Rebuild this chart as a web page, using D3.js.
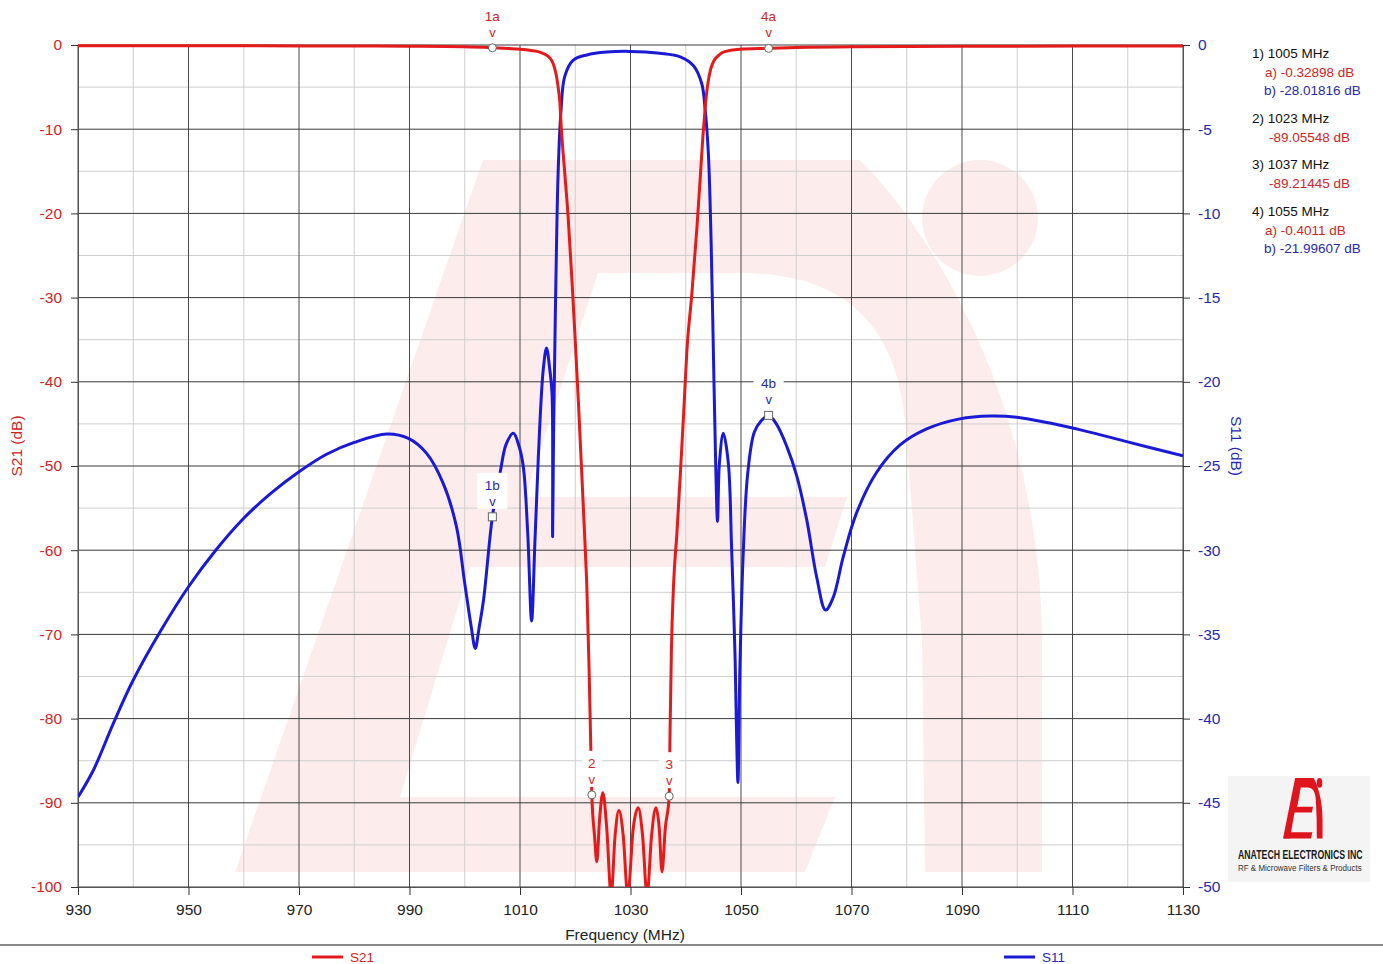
<!DOCTYPE html>
<html><head><meta charset="utf-8">
<script src="https://cdn.jsdelivr.net/npm/d3@7"></script>
<style>
body{margin:0;background:#fff;}
svg{display:block;font-family:"Liberation Sans",Arial,Helvetica,sans-serif;}
</style>
</head><body>
<svg id="chart" width="1383" height="964"></svg>
<script>
// ---------------- DATA ----------------
const s21Freq = [930,960,980,990,1000,1005,1008,1010,1012,1013.6,1015,1015.7,1016.2,1016.6,1016.9,1017.2,1017.5,1018.1,1018.7,1019.4,1020.0,1020.6,1021.2,1021.8,1022.1,1022.5,1022.8,1023.0,1023.5,1023.9,1024.4,1025.0,1025.7,1026.5,1027.2,1027.9,1028.7,1029.5,1030.5,1031.4,1032.2,1033.0,1033.8,1034.6,1035.2,1035.7,1036.3,1037.0,1037.15,1037.4,1037.8,1038.4,1039.0,1039.6,1040.2,1041.1,1042.0,1042.6,1043.1,1043.5,1043.8,1044.1,1044.5,1045.0,1046.0,1046.8,1049.8,1055,1060,1070,1090,1130];
const s21Db   = [-0.10,-0.10,-0.12,-0.15,-0.22,-0.33,-0.42,-0.5,-0.65,-0.85,-1.3,-1.8,-2.6,-3.7,-5.0,-6.7,-10.1,-15.2,-20.3,-27.9,-35.1,-42.8,-51.2,-59.7,-64.4,-74,-83,-89.06,-94,-97.0,-92,-88.8,-93,-101,-94,-90.9,-94,-101,-93,-90.6,-94,-101,-94,-90.6,-93,-98.2,-93,-89.21,-82,-72,-64,-58,-51.2,-44.0,-36.4,-29.6,-21.9,-16.0,-10.9,-7.6,-5.6,-4.2,-2.9,-2.0,-1.2,-0.85,-0.5,-0.40,-0.3,-0.2,-0.15,-0.12];

const s11Freq = [930,932.8,936.4,940,945,950,955,960,965,970,975,980,985.9,989.8,993.1,996.1,998.5,1000,1001.2,1001.9,1002.6,1003.4,1005,1006.4,1007.5,1008.8,1009.8,1010.6,1011.4,1012.1,1012.7,1013.3,1014.2,1014.8,1015.4,1015.8,1015.9,1016.05,1016.2,1016.5,1016.9,1017.4,1018.1,1019.6,1022.1,1025.7,1029.9,1035.3,1039.0,1041.4,1042.9,1043.5,1044.1,1044.6,1045.0,1045.4,1045.75,1046.1,1046.8,1047.7,1048.3,1048.9,1049.2,1049.45,1049.8,1050.4,1051.2,1052.4,1053.7,1055,1056.4,1058.3,1060.1,1061.9,1063.7,1065.3,1066.7,1068.5,1070.9,1074.5,1078.8,1083.6,1089.6,1095.1,1099.9,1105.9,1112.0,1119.8,1130];
const s11Db   = [-44.66,-43.05,-40.28,-37.71,-34.77,-32.17,-29.97,-28.1,-26.6,-25.34,-24.3,-23.6,-23.1,-23.36,-24.25,-26.03,-28.6,-31.97,-34.6,-35.83,-34.6,-32.96,-28.02,-25.4,-23.7,-23.06,-23.8,-25.04,-29,-34.2,-29.5,-24.6,-19.3,-18.0,-19.3,-20.7,-29.2,-24,-20.3,-13.95,-7.6,-4.0,-1.86,-0.91,-0.59,-0.42,-0.38,-0.49,-0.7,-1.23,-2.3,-3.78,-6.5,-11.8,-18.2,-24.6,-28.3,-24.8,-23.06,-24.8,-29.9,-36,-41,-43.8,-37,-30.2,-25.5,-23.0,-22.3,-22.0,-22.5,-23.85,-25.6,-28.2,-31.6,-33.55,-32.8,-30.4,-27.8,-25.4,-23.75,-22.8,-22.2,-22.03,-22.1,-22.45,-22.9,-23.55,-24.4];

const xTicks     = [930,950,970,990,1010,1030,1050,1070,1090,1110,1130];
const xMinor     = [940,960,980,1000,1020,1040,1060,1080,1100,1120];
const leftTicks  = [0,-10,-20,-30,-40,-50,-60,-70,-80,-90,-100];
const leftMinor  = [-5,-15,-25,-35,-45,-55,-65,-75,-85,-95];
const rightTicks = [0,-5,-10,-15,-20,-25,-30,-35,-40,-45,-50];

const markerIds  = ["1","2","3","4"];
const markerFreq = [1005,1023,1037,1055];
const markerS21  = [-0.32898,-89.05548,-89.21445,-0.4011];
const markerS11  = [-28.01816,null,null,-21.99607];

const seriesNames = ["S21","S11"];

// ---------------- SETUP ----------------
const RED = "#e51a1a", BLUE = "#1a1ad6", RED_T = "#d42323", BLUE_T = "#2828b4";
const PINK = "#fcecec";
const svg = d3.select("#chart");
const L = 78, R = 1183, T = 45, B = 887;
const x  = d3.scaleLinear().domain([930,1130]).range([L,R]);
const yL = d3.scaleLinear().domain([-100,0]).range([B,T]);
const yR = d3.scaleLinear().domain([-50,0]).range([B,T]);
const fmt = d => String(d);

svg.append("rect").attr("width",1383).attr("height",964).attr("fill","#fff");

// ---------------- WATERMARK ----------------
function logoShapes(g){
  g.append("polygon").attr("points","235,872 483,160 640,160 598,273 525,497 470,567 400,797 380,872");
  g.append("path").attr("d","M483,160 L860,160 C930,230 1040,400 1042,640 L1042,872 L925,872 L922,640 L905,420 C895,320 840,273 740,273 L598,273 Z");
  g.append("polygon").attr("points","520,497 847,497 825,567 450,567");
  g.append("polygon").attr("points","300,797 835,797 805,872 260,872");
  g.append("circle").attr("cx",980).attr("cy",218).attr("r",58);
}
const wm = svg.append("g").attr("fill",PINK);
logoShapes(wm);

// ---------------- GRID ----------------
const grid = svg.append("g");
grid.selectAll(".vmin").data(xMinor).join("line")
  .attr("x1",d=>x(d)).attr("x2",d=>x(d)).attr("y1",T).attr("y2",B)
  .attr("stroke","#cfcfcf").attr("stroke-width",1);
grid.selectAll(".hmin").data(leftMinor).join("line")
  .attr("x1",L).attr("x2",R).attr("y1",d=>yL(d)).attr("y2",d=>yL(d))
  .attr("stroke","#cfcfcf").attr("stroke-width",1);
grid.selectAll(".vmaj").data(xTicks).join("line")
  .attr("x1",d=>x(d)).attr("x2",d=>x(d)).attr("y1",T).attr("y2",B)
  .attr("stroke","#4a4a4a").attr("stroke-width",1);
grid.selectAll(".hmaj").data(leftTicks).join("line")
  .attr("x1",L).attr("x2",R).attr("y1",d=>yL(d)).attr("y2",d=>yL(d))
  .attr("stroke","#3a3a3a").attr("stroke-width",1);

// ---------------- AXES ----------------
const axL = svg.append("g").attr("transform",`translate(${L},0)`)
  .call(d3.axisLeft(yL).tickValues(leftTicks).tickSize(7).tickSizeOuter(0).tickPadding(9).tickFormat(fmt));
axL.select(".domain").attr("stroke","#555");
axL.selectAll(".tick line").attr("stroke","#333");
axL.selectAll("text").attr("fill",RED_T).attr("font-size","15.5px").attr("font-family","Liberation Sans, Arial, sans-serif");

const axR = svg.append("g").attr("transform",`translate(${R},0)`)
  .call(d3.axisRight(yR).tickValues(rightTicks).tickSize(7).tickSizeOuter(0).tickPadding(8).tickFormat(fmt));
axR.select(".domain").attr("stroke","#555");
axR.selectAll(".tick line").attr("stroke","#333");
axR.selectAll("text").attr("fill",BLUE_T).attr("font-size","15.5px").attr("font-family","Liberation Sans, Arial, sans-serif");

const axB = svg.append("g").attr("transform",`translate(0,${B})`)
  .call(d3.axisBottom(x).tickValues(xTicks).tickSize(8).tickSizeOuter(0).tickPadding(9).tickFormat(fmt));
axB.select(".domain").attr("stroke","#555");
axB.selectAll(".tick line").attr("stroke","#333");
axB.selectAll("text").attr("fill","#222").attr("font-size","15.5px").attr("font-family","Liberation Sans, Arial, sans-serif");

svg.append("text").attr("x",625).attr("y",940).attr("text-anchor","middle")
  .attr("font-size","15.5px").attr("fill","#222").text("Frequency (MHz)");
svg.append("text").attr("transform","translate(22,446) rotate(-90)").attr("text-anchor","middle")
  .attr("font-size","15.5px").attr("fill",RED_T).text("S21 (dB)");
svg.append("text").attr("transform","translate(1231,446) rotate(90)").attr("text-anchor","middle")
  .attr("font-size","15.5px").attr("fill",BLUE_T).text("S11 (dB)");

// ---------------- CURVES ----------------
svg.append("clipPath").attr("id","plotclip").append("rect")
  .attr("x",L).attr("y",30).attr("width",R-L).attr("height",B-30);
const curves = svg.append("g").attr("clip-path","url(#plotclip)");
const s11Data = s11Freq.map((f,i)=>[f,s11Db[i]]);
const s21Data = s21Freq.map((f,i)=>[f,s21Db[i]]);
curves.append("path").datum(s11Data)
  .attr("d",d3.line().x(d=>x(d[0])).y(d=>yR(d[1])).curve(d3.curveCatmullRom.alpha(0.5)))
  .attr("fill","none").attr("stroke",BLUE).attr("stroke-width",3).attr("stroke-linejoin","round");
curves.append("path").datum(s21Data)
  .attr("d",d3.line().x(d=>x(d[0])).y(d=>yL(d[1])).curve(d3.curveMonotoneX))
  .attr("fill","none").attr("stroke",RED).attr("stroke-width",3).attr("stroke-linejoin","round");

// ---------------- MARKERS ----------------
const mk = svg.append("g");
function drawMarker(px, py, label, color, square){
  const w = label.length > 1 ? 30 : 20;
  mk.append("rect").attr("x",px-w/2).attr("y",py-44).attr("width",w).attr("height",36).attr("fill","#fff");
  mk.append("text").attr("x",px).attr("y",py-27).attr("text-anchor","middle")
    .attr("font-size","13.5px").attr("fill",color).text(label);
  mk.append("text").attr("x",px).attr("y",py-11).attr("text-anchor","middle")
    .attr("font-size","13px").attr("fill",color).text("v");
  if(square){
    mk.append("rect").attr("x",px-4).attr("y",py-4).attr("width",8).attr("height",8)
      .attr("fill","#fff").attr("stroke","#666").attr("stroke-width",1);
  } else {
    mk.append("circle").attr("cx",px).attr("cy",py).attr("r",4)
      .attr("fill","#fff").attr("stroke","#666").attr("stroke-width",1);
  }
}
markerIds.forEach((id,i)=>{
  const two = markerS11[i] !== null;
  drawMarker(x(markerFreq[i]), yL(markerS21[i]), two ? id+"a" : id, RED_T, false);
  if(two) drawMarker(x(markerFreq[i]), yR(markerS11[i]), id+"b", BLUE_T, true);
});

// ---------------- READOUT ----------------
const ro = svg.append("g").attr("font-size","13.5px");
const readoutY = [58,123,169,216];
markerIds.forEach((id,i)=>{
  const y0 = readoutY[i];
  ro.append("text").attr("x",1252).attr("y",y0).attr("fill","#111").text(`${id}) ${markerFreq[i]} MHz`);
  if(markerS11[i] !== null){
    ro.append("text").attr("x",1265).attr("y",y0+19).attr("fill",RED_T).text(`a) ${markerS21[i]} dB`);
    ro.append("text").attr("x",1264).attr("y",y0+37).attr("fill",BLUE_T).text(`b) ${markerS11[i]} dB`);
  } else {
    ro.append("text").attr("x",1269).attr("y",y0+19).attr("fill",RED_T).text(`${markerS21[i]} dB`);
  }
});

// ---------------- LOGO ----------------
svg.append("rect").attr("x",1228).attr("y",776).attr("width",142).attr("height",106).attr("fill","#f4f4f4");
const lg = svg.append("g").attr("fill","#e0141c")
  .attr("transform","translate(1283,778) scale(0.049,0.085) translate(-235,-160)");
logoShapes(lg);
svg.append("text").attr("transform","translate(1238,859) scale(0.7,1)")
  .attr("font-size","12.5px").attr("font-weight","bold")
  .attr("fill","#1a1a1a").text("ANATECH ELECTRONICS INC");
svg.append("text").attr("transform","translate(1238,871) scale(0.84,1)")
  .attr("font-size","9.5px")
  .attr("fill","#333").text("RF & Microwave Filters & Products");

// ---------------- FOOTER / LEGEND ----------------
svg.append("line").attr("x1",0).attr("x2",1383).attr("y1",945).attr("y2",945).attr("stroke","#8a8a8a").attr("stroke-width",2);
const legX = [312,1004], legC = [RED,BLUE], legT = [RED_T,BLUE_T];
seriesNames.forEach((n,i)=>{
  svg.append("line").attr("x1",legX[i]).attr("x2",legX[i]+31).attr("y1",957).attr("y2",957)
    .attr("stroke",legC[i]).attr("stroke-width",3);
  svg.append("text").attr("x",legX[i]+38).attr("y",962).attr("font-size","13.5px").attr("fill",legT[i]).text(n);
});
</script>
</body></html>
